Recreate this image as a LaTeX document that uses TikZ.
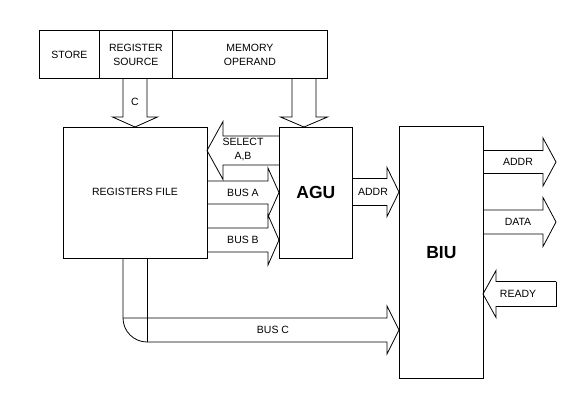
\documentclass[tikz,border=0pt]{standalone}
\usepackage{fontspec}
\setmainfont{Liberation Sans}
\begin{document}
\begin{tikzpicture}[x=1pt,y=-1pt,line width=0.8pt,
  box/.style={draw,inner sep=0pt,anchor=north west},
  lbl/.style={font=\fontsize{10.5}{14}\selectfont,align=center,inner sep=0pt},
  big/.style={font=\fontsize{17.5}{20}\selectfont\bfseries,inner sep=0pt},
  arr/.style={draw,line join=miter}]
\useasboundingbox (0,0) rectangle (586,418);
% right-pointing block arrow: start x, tip x, center y, shaft half, head half, head length
\newcommand\RArr[6]{\draw[arr] (#1,#3-#4) -- (#2-#6,#3-#4) -- (#2-#6,#3-#5) -- (#2,#3) -- (#2-#6,#3+#5) -- (#2-#6,#3+#4) -- (#1,#3+#4);}
\newcommand\LArr[6]{\draw[arr] (#1,#3-#4) -- (#2+#6,#3-#4) -- (#2+#6,#3-#5) -- (#2,#3) -- (#2+#6,#3+#5) -- (#2+#6,#3+#4) -- (#1,#3+#4);}
\newcommand\DArr[6]{\draw[arr] (#3-#4,#1) -- (#3-#4,#2-#6) -- (#3-#5,#2-#6) -- (#3,#2) -- (#3+#5,#2-#6) -- (#3+#4,#2-#6) -- (#3+#4,#1);}
% top instruction bar
\node[box,minimum width=60pt,minimum height=48pt] (store) at (39,30) {};
\node[box,minimum width=73pt,minimum height=48pt] (rsrc) at (99,30) {};
\node[box,minimum width=155pt,minimum height=48pt] (mop) at (172,30) {};
\node[lbl] (tstore) at (store.center) {STORE};
\node[lbl] (trsrc) at (rsrc.center) {REGISTER\\SOURCE};
\node[lbl] (tmop) at (mop.center) {MEMORY\\OPERAND};
% main blocks
\node[box,minimum width=144pt,minimum height=131pt] (rf) at (63,127) {};
\node[box,minimum width=73pt,minimum height=131pt] (agu) at (279,127) {};
\node[box,minimum width=84pt,minimum height=252pt] (biu) at (399,126) {};
\node[lbl] (trf) at (135,192) {REGISTERS FILE};
\node[big] (tagu) at (agu.center) {AGU};
\node[big] (tbiu) at (biu.center) {BIU};
% arrows from the instruction bar
\DArr{78}{127}{135}{12}{22.5}{10}
\DArr{78}{127}{304}{12}{23.5}{10}
\node[lbl] (tc) at (135,102) {C};
% SELECT A,B
\LArr{279}{207}{150.5}{14.5}{29}{16}
\node[lbl] (tsel) at (243,150) {SELECT\\A,B};
% BUS A, BUS B
\RArr{207}{279}{192.5}{11.5}{24.5}{11}
\node[lbl] (tbusa) at (243,192.5) {BUS A};
\RArr{207}{279}{240}{12}{25}{11}
\node[lbl] (tbusb) at (243,240) {BUS B};
% ADDR AGU -> BIU
\RArr{352}{399}{192}{13.5}{24.5}{12}
\node[lbl] (taddr1) at (373,192) {ADDR};
% BIU outputs
\RArr{483}{556}{162}{11.5}{24}{13}
\node[lbl] (taddr2) at (518,162) {ADDR};
\RArr{483}{556}{222}{12}{24.5}{13}
\node[lbl] (tdata) at (518,222) {DATA};
\LArr{556}{483}{294}{12.5}{23.5}{13}
\draw[arr] (556,281.5) -- (556,306.5);
\node[lbl] (tready) at (518,294) {READY};
% BUS C
\draw[arr] (123,258) -- (123,318) .. controls (123,331.25) and (133.75,342) .. (147,342);
\draw[arr] (123,318) -- (387,318) -- (387,306) -- (399,330) -- (387,354) -- (387,342) -- (147,342);
\draw[arr] (147,258) -- (147,342);
\node[lbl] (tbusc) at (273,330) {BUS C};
\end{tikzpicture}
\end{document}
